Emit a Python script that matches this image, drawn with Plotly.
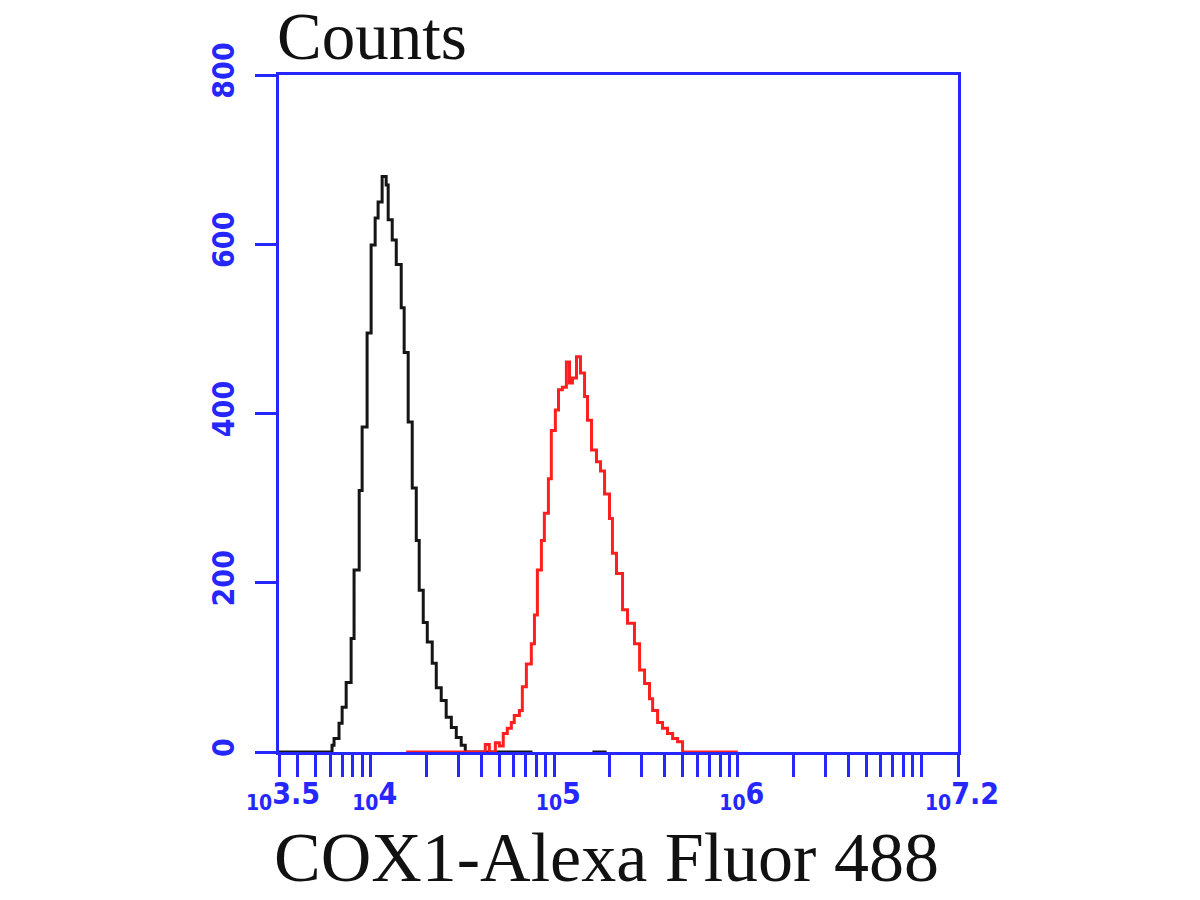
import numpy as np
import plotly.graph_objects as go

# ---------------- data (log10 fluorescence bin left edges, counts) ----------------
black_log = [3.500, 3.789, 3.800, 3.827, 3.844, 3.866, 3.893, 3.909, 3.937, 3.953,
             3.980, 4.002, 4.024, 4.040, 4.062, 4.084, 4.095, 4.117, 4.139, 4.166,
             4.182, 4.204, 4.226, 4.248, 4.264, 4.286, 4.308, 4.335, 4.357, 4.384,
             4.411, 4.439, 4.466, 4.493, 4.515, 4.881, None, 5.208, 5.285]
black_counts = [0, 8, 16, 34, 53, 82, 134, 215, 309, 384,
                495, 599, 631, 650, 680, 670, 629, 605, 576, 525,
                472, 390, 312, 250, 191, 153, 130, 105, 76, 61,
                41, 29, 17, 8, 0, 0, None, 0, 0]

red_log = [4.193, 4.624, 4.646, 4.679, 4.701, 4.722, 4.744, 4.766, 4.782, 4.810,
           4.826, 4.848, 4.875, 4.892, 4.908, 4.930, 4.946, 4.968, 4.984, 5.006,
           5.023, 5.044, 5.066, 5.083, 5.099, 5.121, 5.143, 5.165, 5.181, 5.203,
           5.230, 5.252, 5.274, 5.301, 5.317, 5.339, 5.372, 5.399, 5.437, 5.465,
           5.492, 5.519, 5.536, 5.563, 5.590, 5.617, 5.645, 5.672, 5.699, 6.000]
red_counts = [0, 9, 0, 11, 7, 22, 28, 35, 43, 49,
              77, 104, 128, 162, 215, 250, 282, 323, 380, 404,
              428, 431, 461, 436, 442, 467, 448, 420, 392, 357,
              343, 332, 305, 276, 235, 211, 168, 152, 128, 97,
              81, 63, 49, 35, 28, 22, 16, 12, 0, 0]

x_tick_exponents = ["3.5", "4", "5", "6", "7.2"]
y_tick_values = [0, 200, 400, 600, 800]
x_range_log = [3.5, 7.2]
y_range = [0, 800]

BLUE = "#2626ff"

def to_lin(vals):
    return [None if v is None else 10 ** v for v in vals]

fig = go.Figure()
fig.add_trace(go.Scatter(x=to_lin(black_log), y=black_counts, mode="lines",
                         line=dict(color="#151515", width=3, shape="hv"),
                         connectgaps=False, hoverinfo="skip"))
fig.add_trace(go.Scatter(x=to_lin(red_log), y=red_counts, mode="lines",
                         line=dict(color="#ff1f1f", width=3, shape="hv"),
                         connectgaps=False, hoverinfo="skip"))

major_vals = [10 ** float(e) for e in x_tick_exponents]
major_text = ["<sub>10</sub>" + e for e in x_tick_exponents]
minor_vals = [m * 10 ** k for k in range(3, 8) for m in range(1, 10)
              if x_range_log[0] <= np.log10(m * 10 ** k) <= x_range_log[1]]

tickfont = dict(family="Liberation Sans Narrow, DejaVu Sans Condensed, Liberation Sans",
                size=30, color=BLUE, weight="bold")

fig.update_xaxes(type="log", range=x_range_log,
                 tickmode="array", tickvals=major_vals, ticktext=major_text,
                 ticks="outside", ticklen=22, tickwidth=3, tickcolor=BLUE,
                 minor=dict(tickmode="array", tickvals=minor_vals, ticks="outside",
                            ticklen=22, tickwidth=3, tickcolor=BLUE, showgrid=False),
                 showline=True, linecolor=BLUE, linewidth=3, mirror=True,
                 showgrid=False, zeroline=False, tickfont=tickfont,
                 ticklabelstandoff=-9, ticklabelshift=4)
fig.update_yaxes(range=y_range, tickmode="array", tickvals=y_tick_values,
                 ticktext=[str(v) for v in y_tick_values], tickangle=-90,
                 ticks="outside", ticklen=21, tickwidth=3, tickcolor=BLUE,
                 showline=True, linecolor=BLUE, linewidth=3, mirror=True,
                 showgrid=False, zeroline=False, tickfont=tickfont,
                 ticklabelstandoff=9)

serif = "Liberation Serif, DejaVu Serif, serif"
fig.add_annotation(text="Counts", xref="paper", yref="paper", x=-0.0059, y=1.0576,
                   xanchor="left", yanchor="middle", showarrow=False,
                   font=dict(family=serif, size=67, color="#111111"))
fig.add_annotation(text="COX1-Alexa Fluor 488", xref="paper", yref="paper", x=0.4823, y=-0.2156,
                   xanchor="center", yanchor="bottom", showarrow=False,
                   font=dict(family=serif, size=70, color="#111111"))

fig.update_layout(width=1200, height=900, margin=dict(l=279, r=242, t=75, b=148),
                  paper_bgcolor="white", plot_bgcolor="white", showlegend=False)

fig.write_html("out.html")
